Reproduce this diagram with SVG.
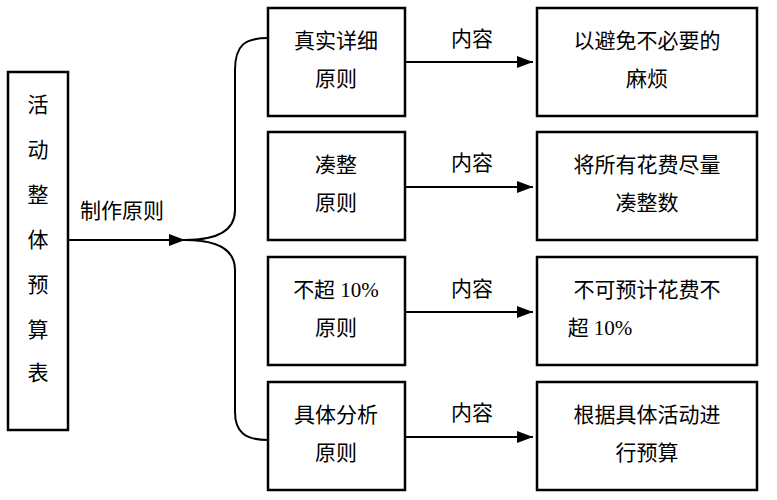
<svg xmlns="http://www.w3.org/2000/svg" width="777" height="500" viewBox="0 0 777 500">
<defs>
<style>
rect{fill:#fff;stroke:#000;stroke-width:2.5}
text{font-family:"Liberation Serif","Noto Sans CJK SC",serif;font-size:21px;fill:#000;text-anchor:middle}
.c{stroke:#000;stroke-width:2;fill:none}
</style>
<marker id="a" markerWidth="10" markerHeight="10" refX="9" refY="5" orient="auto" markerUnits="userSpaceOnUse" viewBox="0 0 10 10"><path d="M0,0L10,5L0,10z" fill="#000"/></marker>
<marker id="b" markerWidth="16" markerHeight="12" refX="16" refY="6" orient="auto" markerUnits="userSpaceOnUse"><path d="M0,0L16,6L0,12z" fill="#000"/></marker>
</defs>
<rect width="777" height="500" style="fill:#fff;stroke:none"/>
<g id="connectors">
<line class="c" x1="68" y1="240" x2="185" y2="240" marker-end="url(#b)"/>
<path class="c" d="M268,38 C245,38 235,45 235,70 L235,210 C235,232 215,240 185,240 C215,240 235,248 235,270 L235,412 C235,432 245,440 268,440"/>
<line class="c" x1="405" y1="62" x2="533" y2="62" marker-end="url(#b)"/>
<line class="c" x1="405" y1="187" x2="533" y2="187" marker-end="url(#b)"/>
<line class="c" x1="405" y1="312" x2="533" y2="312" marker-end="url(#b)"/>
<line class="c" x1="405" y1="437" x2="533" y2="437" marker-end="url(#b)"/>
<text x="122" y="218">制作原则</text>
<text x="472" y="46">内容</text>
<text x="472" y="170">内容</text>
<text x="472" y="296">内容</text>
<text x="472" y="420">内容</text>
</g>
<g id="root"><rect x="8" y="72" width="60" height="358"/>
<text x="38" y="112">活</text><text x="38" y="157">动</text><text x="38" y="202">整</text><text x="38" y="247">体</text><text x="38" y="292">预</text><text x="38" y="337">算</text><text x="38" y="380">表</text></g>
<g id="p1"><rect x="268" y="8" width="137" height="108"/><text x="336" y="48">真实详细</text><text x="336" y="86">原则</text></g>
<g id="p2"><rect x="268" y="132" width="137" height="108"/><text x="336" y="172">凑整</text><text x="336" y="210">原则</text></g>
<g id="p3"><rect x="268" y="257" width="137" height="108"/><text x="336" y="297">不超 10%</text><text x="336" y="335">原则</text></g>
<g id="p4"><rect x="268" y="382" width="137" height="108"/><text x="336" y="422">具体分析</text><text x="336" y="460">原则</text></g>
<g id="r1"><rect x="537" y="8" width="220" height="108"/><text x="647" y="48">以避免不必要的</text><text x="647" y="86">麻烦</text></g>
<g id="r2"><rect x="537" y="132" width="220" height="108"/><text x="647" y="172">将所有花费尽量</text><text x="647" y="210">凑整数</text></g>
<g id="r3"><rect x="537" y="257" width="220" height="108"/><text x="647" y="297">不可预计花费不</text><text x="600" y="335">超 10%</text></g>
<g id="r4"><rect x="537" y="382" width="220" height="108"/><text x="647" y="422">根据具体活动进</text><text x="647" y="460">行预算</text></g>
</svg>
